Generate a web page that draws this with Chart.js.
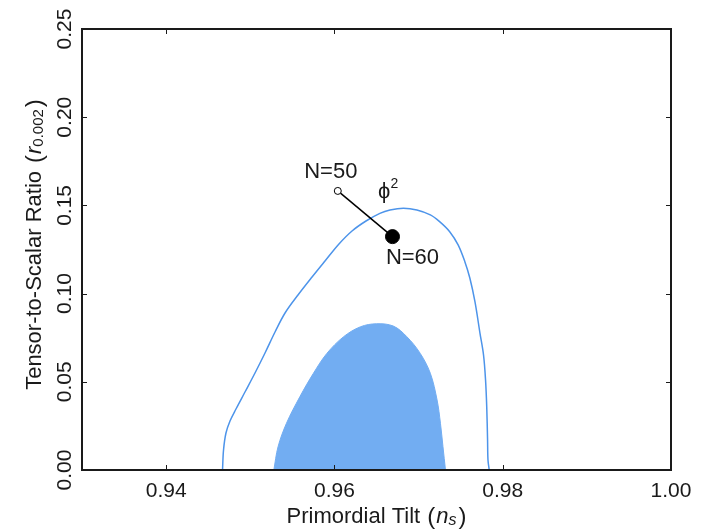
<!DOCTYPE html>
<html>
<head>
<meta charset="utf-8">
<script src="https://cdn.jsdelivr.net/npm/chart.js@4"></script>
<style>
  body { margin: 0; background: #fff; }
  canvas { display: block; }
</style>
</head>
<body>
<canvas id="myChart" width="708" height="531"></canvas>
<script>
const ctx = document.getElementById("myChart").getContext("2d");

// 95% contour (outline)
const outerX = [
  0.9467, 0.94682, 0.94711, 0.94759, 0.9483, 0.94937, 0.95056, 0.95175,
  0.95294, 0.95413, 0.95567, 0.95734, 0.95888, 0.96054, 0.96209, 0.96375,
  0.9654, 0.9666, 0.9682, 0.9698, 0.9714, 0.9725, 0.9737, 0.9747, 0.9755,
  0.9761, 0.9767, 0.9773, 0.97772, 0.97796, 0.9781, 0.9782, 0.97825, 0.9784,
];
const outerY = [
  0, 0.01134, 0.02098, 0.02778, 0.03458, 0.04422, 0.05499, 0.06633, 0.07823,
  0.089, 0.09921, 0.10941, 0.11848, 0.12812, 0.13549, 0.14116, 0.1455,
  0.1474, 0.1484, 0.1474, 0.1446, 0.1408, 0.1351, 0.1276, 0.1181, 0.1087,
  0.0954, 0.0775, 0.06519, 0.05102, 0.0359, 0.017, 0.00567, 0,
];

// 68% contour (filled)
const innerX = [
  0.9528, 0.9533, 0.9543, 0.9559, 0.9575, 0.9591, 0.9611, 0.9631, 0.965,
  0.967, 0.9686, 0.9702, 0.9714, 0.9722, 0.9726, 0.9729, 0.9732,
];
const innerY = [
  0, 0.0132, 0.0265, 0.0416, 0.0548, 0.0661, 0.0756, 0.0812, 0.0829, 0.0816,
  0.0756, 0.0661, 0.0548, 0.0397, 0.0265, 0.0132, 0,
];

// phi^2 model, N=50 and N=60
const modelLabels = ["N=50", "N=60"];
const modelX = [0.9604, 0.9669];
const modelY = [0.1582, 0.1323];

const xTicks = [0.94, 0.96, 0.98, 1.0];
const yTicks = [0.0, 0.05, 0.1, 0.15, 0.2, 0.25];

const FONT = "'Liberation Sans', Arial, sans-serif";
const INK = "#1a1a1a";

const pts = (xs, ys) => xs.map((x, i) => ({ x: x, y: ys[i] }));

// draw text pieces side by side, centred on (cx, cy)
function drawRich(c, parts, cx, cy) {
  let total = 0;
  parts.forEach((p) => {
    c.font = p.font;
    p.w = c.measureText(p.text).width + (p.gap || 0);
    total += p.w;
  });
  let x = cx - total / 2;
  parts.forEach((p) => {
    c.font = p.font;
    c.textAlign = "left";
    c.textBaseline = "middle";
    c.fillText(p.text, x + (p.gap || 0), cy + (p.dy || 0));
    x += p.w;
  });
}

const decor = {
  id: "decor",
  afterDatasetsDraw(chart) {
    const c = chart.ctx;
    const a = chart.chartArea;
    const xs = chart.scales.x;
    const ys = chart.scales.y;
    c.save();

    // frame
    c.strokeStyle = INK;
    c.lineWidth = 2;
    c.strokeRect(a.left, a.top, a.right - a.left, a.bottom - a.top);

    // inward ticks on all sides
    c.lineWidth = 1;
    c.beginPath();
    xTicks.forEach((v) => {
      const px = Math.round(xs.getPixelForValue(v)) + 0.5;
      c.moveTo(px, a.bottom);
      c.lineTo(px, a.bottom - 5);
      c.moveTo(px, a.top);
      c.lineTo(px, a.top + 5);
    });
    yTicks.forEach((v) => {
      const py = Math.round(ys.getPixelForValue(v)) + 0.5;
      c.moveTo(a.left, py);
      c.lineTo(a.left + 5, py);
      c.moveTo(a.right, py);
      c.lineTo(a.right - 5, py);
    });
    c.stroke();

    c.fillStyle = INK;

    // y tick labels, rotated
    c.font = "21px " + FONT;
    c.textAlign = "center";
    c.textBaseline = "middle";
    yTicks.forEach((v) => {
      const py = ys.getPixelForValue(v);
      c.save();
      c.translate(a.left - 17, py);
      c.rotate(-Math.PI / 2);
      c.fillText(v.toFixed(2), 0, 0);
      c.restore();
    });

    // axis titles
    drawRich(
      c,
      [
        { text: "Primordial Tilt", font: "22px " + FONT },
        { text: "(", font: "24px " + FONT, gap: 7 },
        { text: "n", font: "italic 22px " + FONT, gap: 1 },
        { text: "s", font: "italic 16px " + FONT, dy: 4 },
        { text: ")", font: "24px " + FONT, gap: 2 },
      ],
      (a.left + a.right) / 2,
      a.bottom + 47
    );
    c.save();
    c.translate(a.left - 47, (a.top + a.bottom) / 2 - 5);
    c.rotate(-Math.PI / 2);
    drawRich(
      c,
      [
        { text: "Tensor-to-Scalar Ratio", font: "22px " + FONT },
        { text: "(", font: "24px " + FONT, gap: 8 },
        { text: "r", font: "italic 22px " + FONT, gap: 1 },
        { text: "0.002", font: "15px " + FONT, dy: 4 },
        { text: ")", font: "24px " + FONT, gap: 2 },
      ],
      0,
      0
    );
    c.restore();

    // model labels
    const p0x = xs.getPixelForValue(modelX[0]);
    const p0y = ys.getPixelForValue(modelY[0]);
    const p1x = xs.getPixelForValue(modelX[1]);
    const p1y = ys.getPixelForValue(modelY[1]);
    c.font = "22px " + FONT;
    c.textAlign = "center";
    c.textBaseline = "middle";
    c.fillText(modelLabels[0], p0x - 7, p0y - 19);
    c.fillText(modelLabels[1], p1x + 20, p1y + 21);
    drawRich(
      c,
      [
        { text: "\u03d5", font: "22px " + FONT },
        { text: "2", font: "14px " + FONT, dy: -8 },
      ],
      (p0x + p1x) / 2 + 23,
      (p0y + p1y) / 2 - 22
    );

    c.restore();
  },
};

const data = {
  datasets: [
    {
      label: "phi2",
      data: pts(modelX, modelY),
      borderColor: "#000",
      borderWidth: 1.5,
      pointRadius: [3.5, 7],
      pointBackgroundColor: ["#fff", "#000"],
      pointBorderColor: "#000",
      pointBorderWidth: 1,
      showLine: true,
      fill: false,
      order: 1,
    },
    {
      label: "95%",
      data: pts(outerX, outerY),
      borderColor: "#4d94ea",
      borderWidth: 1.5,
      pointRadius: 0,
      tension: 0.35,
      fill: false,
      order: 2,
    },
    {
      label: "68%",
      data: pts(innerX, innerY),
      borderColor: "#72adf2",
      backgroundColor: "#72adf2",
      borderWidth: 1,
      pointRadius: 0,
      tension: 0.35,
      fill: "origin",
      order: 3,
    },
  ],
};

const config = {
  type: "line",
  data: data,
  options: {
    responsive: false,
    animation: false,
    layout: { padding: { left: 0, right: 37, top: 29, bottom: 0 } },
    plugins: {
      legend: { display: false },
      tooltip: { enabled: false },
    },
    scales: {
      x: {
        type: "linear",
        min: 0.93,
        max: 1.0,
        afterBuildTicks: (s) => {
          s.ticks = xTicks.map((v) => ({ value: v }));
        },
        afterFit: (s) => {
          s.height = 61;
        },
        grid: { display: false, drawTicks: false },
        border: { display: false },
        ticks: {
          padding: 9,
          maxRotation: 0,
          color: INK,
          font: { family: FONT, size: 21 },
          callback: (v) => v.toFixed(2),
        },
      },
      y: {
        type: "linear",
        min: 0,
        max: 0.25,
        afterBuildTicks: (s) => {
          s.ticks = yTicks.map((v) => ({ value: v }));
        },
        afterFit: (s) => {
          s.width = 82;
        },
        grid: { display: false, drawTicks: false },
        border: { display: false },
        ticks: { display: false },
      },
    },
  },
  plugins: [decor],
};

const myChart = new Chart(ctx, config);
</script>
</body>
</html>
